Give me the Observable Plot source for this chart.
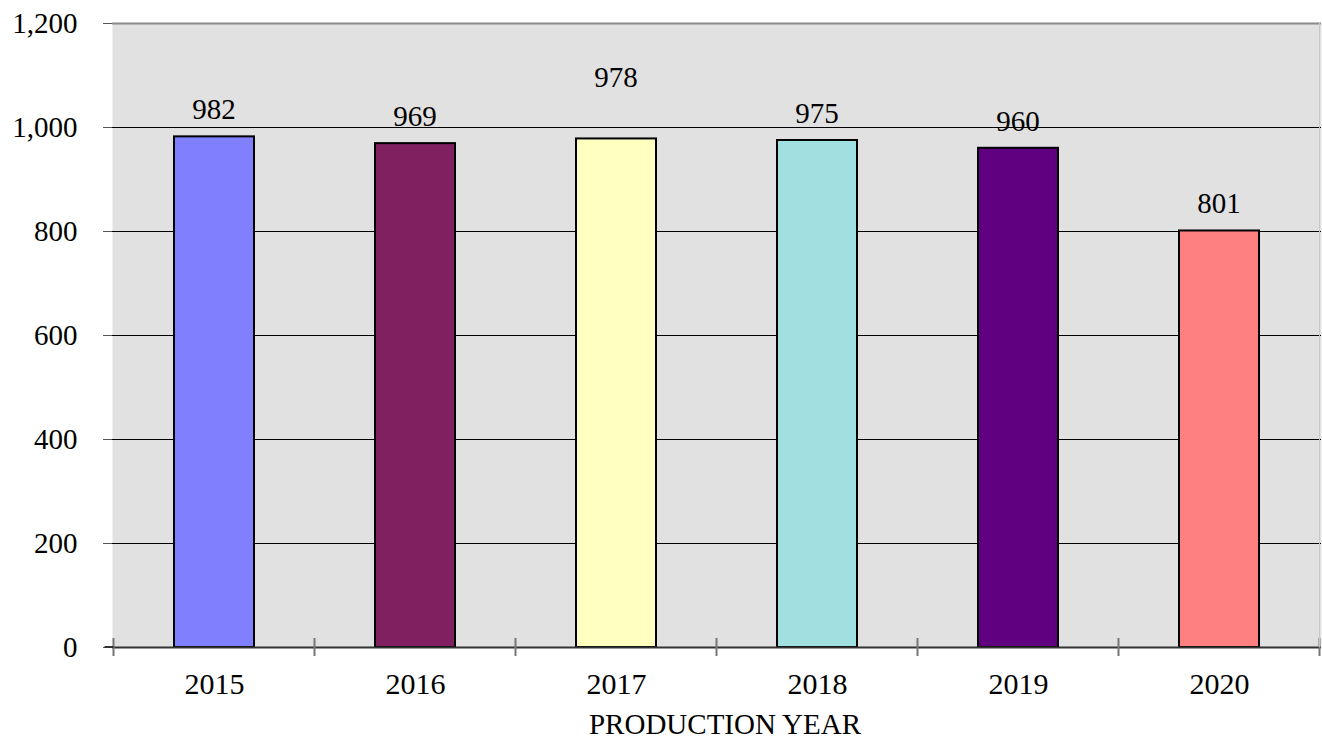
<!DOCTYPE html>
<html>
<head>
<meta charset="utf-8">
<script src="https://cdn.jsdelivr.net/npm/d3@7"></script>
<script src="https://cdn.jsdelivr.net/npm/@observablehq/plot@0.6"></script>
<style>
  html, body { margin: 0; padding: 0; background: #fff; }
  svg { display: block; }
</style>
</head>
<body>
<div id="chart"></div>
<script>
const years = ["2015", "2016", "2017", "2018", "2019", "2020"];
const production = [982, 969, 978, 975, 960, 801];
const barColors = ["#8080ff", "#802060", "#ffffc0", "#a0e0e0", "#600080", "#ff8080"];
const yTicks = [0, 200, 400, 600, 800, 1000, 1200];
const gridValues = [200, 400, 600, 800, 1000];
const xTitle = "PRODUCTION YEAR";

const data = years.map((y, i) => ({year: y, value: production[i], color: barColors[i]}));
const font = "'Liberation Serif', 'Times New Roman', serif";

const chart = Plot.plot({
  width: 1322,
  height: 739,
  marginLeft: 112,
  marginRight: 1,
  marginTop: 23,
  marginBottom: 92,
  style: {fontFamily: font, color: "#000", background: "#fff"},
  x: {domain: years, paddingInner: 0.6, paddingOuter: 0.3, align: 0.5},
  y: {domain: [0, 1200], ticks: yTicks},
  marks: [
    Plot.frame({fill: "#e1e1e1", stroke: null}),
    Plot.ruleY(gridValues, {stroke: "#000", strokeWidth: 1}),
    Plot.ruleY([1200], {stroke: "#8a8a8a", strokeWidth: 2}),
    Plot.barY(data, {x: "year", y: "value", fill: "color", stroke: "#000", strokeWidth: 2}),
    Plot.axisY({ticks: yTicks, tickFormat: d3.format(","), tickSize: 9, tickPadding: 26, fontSize: 29, label: null, stroke: "#555"}),
    Plot.axisX({tickSize: 0, tickPadding: 25, fontSize: 30, label: null}),
    Plot.ruleX([0], {stroke: "#444", strokeWidth: 1.5}),
    Plot.ruleY([0], {stroke: "#333", strokeWidth: 2}),
    Plot.text([xTitle], {frameAnchor: "bottom", dy: 86, dx: 8, fontSize: 29, lineAnchor: "bottom", fill: "#000"})
  ]
});

document.getElementById("chart").appendChild(chart);

const xs = chart.scale("x");
const ys = chart.scale("y");
const svg = d3.select(chart);
const half = xs.bandwidth / 2;
const gap = (xs.step - xs.bandwidth) / 2;

// value labels (the 2017 label sits higher, as in the source)
svg.append("g")
  .attr("font-family", font).attr("font-size", 29).attr("text-anchor", "middle").attr("fill", "#000")
  .selectAll("text").data(data).join("text")
  .attr("x", d => xs.apply(d.year) + half)
  .attr("y", d => ys.apply(d.value) - (d.year === "2017" ? 51 : 17))
  .text(d => d3.format(",")(d.value));

// category boundary ticks on x axis
const bounds = years.map(y => xs.apply(y) - gap);
bounds.push(xs.apply(years[years.length - 1]) + xs.bandwidth + gap);
const y0 = ys.apply(0);
svg.append("g").selectAll("line").data(bounds).join("line")
  .attr("x1", d => d).attr("x2", d => d)
  .attr("y1", y0 - 9).attr("y2", y0 + 9)
  .attr("stroke", "#777").attr("stroke-width", 2);
svg.append("line").attr("x1", bounds[0] - 9).attr("x2", bounds[0]).attr("y1", y0).attr("y2", y0)
  .attr("stroke", "#333").attr("stroke-width", 2);
// right border of plot area
svg.append("line").attr("x1", bounds[bounds.length - 1]).attr("x2", bounds[bounds.length - 1])
  .attr("y1", ys.apply(1200)).attr("y2", y0).attr("stroke", "#c8c8c8").attr("stroke-width", 1);
</script>
</body>
</html>
